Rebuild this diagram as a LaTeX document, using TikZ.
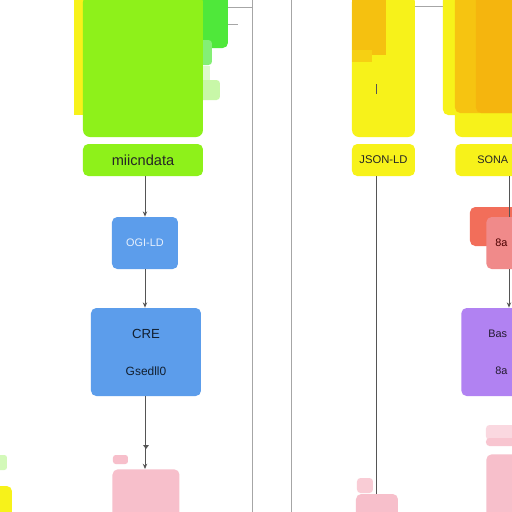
\documentclass[tikz,border=0pt]{standalone}
\usepackage{fontspec}
\setmainfont{Liberation Sans}
\usetikzlibrary{arrows.meta}
\definecolor{lgreen}{HTML}{8EF11A}
\definecolor{mgreen}{HTML}{4FE83A}
\definecolor{pgreen}{HTML}{C8F7A8}
\definecolor{yel}{HTML}{F7F21A}
\definecolor{ora}{HTML}{F5B50E}
\definecolor{blu}{HTML}{5C9DEB}
\definecolor{pnk}{HTML}{F7BFCB}
\definecolor{salm}{HTML}{F08A8A}
\definecolor{redo}{HTML}{F26E5A}
\definecolor{purp}{HTML}{B182F2}
\definecolor{lin}{HTML}{555555}
\tikzset{
  blk/.style={rounded corners=3pt, inner sep=0pt},
  lbl/.style={font=\fontsize{8.3}{10}\selectfont, text=black!85},
  edge/.style={lbl, inner sep=0pt, anchor=west, font=\fontsize{6.2}{7.5}\selectfont},
  conn/.style={draw=lin, line width=0.5pt},
  arr/.style={conn, -{Stealth[length=3pt,width=2.5pt]}},
  rule/.style={draw=gray!70, line width=0.5pt},
}
\begin{document}
\begin{tikzpicture}[x=0.02cm, y=-0.02cm]
\useasboundingbox (0,0) rectangle (512,512);
\fill[white] (0,0) rectangle (512,512);
\clip (0,0) rectangle (512,512);
% vertical rules
\draw[rule] (252,0) coordinate (r1a) -- (252,512) coordinate (r1b);
\draw[rule] (291,0) coordinate (r2a) -- (291,512) coordinate (r2b);
\draw[rule] (228,7) -- (252,7);
\draw[rule] (228,24) -- (238,24);
\draw[rule] (403,6) -- (462,6);
% left column top blocks
\fill[yel] (74,-5) rectangle (86,115);
\fill[mgreen, rounded corners=3pt] (190,-5) rectangle (228,48);
\fill[mgreen!70!white, rounded corners=2pt] (190,40) rectangle (212,65);
\fill[pgreen, rounded corners=2pt] (190,80) rectangle (220,100);
\fill[pgreen!60!white] (200,66) rectangle (210,80);
\fill[lgreen, rounded corners=4pt] (83,-5) rectangle (203,137);
\node[blk, fill=lgreen, minimum width=120*0.02cm, minimum height=32*0.02cm, lbl] (meta) at (143,160) {miicndata};
\node[blk, fill=blu, minimum width=66*0.02cm, minimum height=52*0.02cm, lbl, font=\fontsize{6.2}{7}\selectfont, text=blu!15!white] (ogi) at (145,243) {OGI-LD};
\node[blk, fill=blu, minimum width=110*0.02cm, minimum height=88*0.02cm] (cre) at (146,352) {};
\node[lbl, font=\fontsize{7.5}{9}\selectfont, text=blu!20!black] (cret) at (146,334) {CRE};
\node[lbl, font=\fontsize{6.8}{8}\selectfont, text=blu!20!black] (creb) at (146,371) {Gsedll0};
\fill[pnk, rounded corners=1.5pt] (113,455) rectangle (128,464);
\node[blk, fill=pnk, minimum width=67*0.02cm, minimum height=60*0.02cm, anchor=north] (pk1) at (146,469) {};
\draw[arr] (meta.south -| ogi.north) -- (ogi.north);
\draw[arr] (ogi.south) -- (cre.north -| ogi.south);
\draw[arr] (cre.south -| ogi.south) -- (pk1.north -| ogi.south);
\fill[lin] (143,445) -- (149,445) -- (146,449) -- cycle;
% bottom-left fragments
\fill[pgreen!80!white, rounded corners=1.5pt] (-5,455) rectangle (7,470);
\fill[yel, rounded corners=3pt] (-5,486) rectangle (12,520);
% middle column
\fill[yel, rounded corners=4pt] (352,-5) rectangle (415,137);
\fill[ora!80!yel] (352,-5) rectangle (386,55);
\fill[ora!55!yel] (352,50) rectangle (372,62);
\node[blk, fill=yel, minimum width=63*0.02cm, minimum height=32*0.02cm, lbl, font=\fontsize{6.4}{7.5}\selectfont] (json) at (383.5,160) {JSON-LD};
\coordinate (jend) at (376,512);
\draw[conn] (json.south -| jend) -- (jend);
\draw[conn] (376,84) -- (376,94);
\fill[pnk!80!white, rounded corners=2pt] (357,478) rectangle (373,493);
\fill[pnk, rounded corners=3pt] (356,494) rectangle (398,520);
% right column
\fill[yel, rounded corners=3pt] (443,-5) rectangle (470,115);
\fill[yel, rounded corners=4pt] (455,-5) rectangle (530,137);
\fill[ora!75!yel, rounded corners=3pt] (455,-5) rectangle (530,113);
\fill[ora, rounded corners=3pt] (476,-5) rectangle (530,113);
\node[blk, fill=yel, minimum width=80*0.02cm, minimum height=32*0.02cm, anchor=west] (sona) at (455,160) {};
\node[edge] (sonat) at (477,160) {SONA};
\fill[redo, rounded corners=3pt] (470,207) rectangle (530,246);
\node[blk, fill=salm, minimum width=50*0.02cm, minimum height=52*0.02cm, anchor=west] (sal) at (486,243) {};
\node[edge, text=red!30!black] (salt) at (495,243) {8a};
\node[blk, fill=purp, minimum width=80*0.02cm, minimum height=88*0.02cm, anchor=west] (pur) at (461,352) {};
\node[edge, text=purp!20!black] (purt) at (488,334) {Bas};
\node[edge, text=purp!20!black] (purb) at (495,371) {8a};
\fill[pnk!60!white, rounded corners=2pt] (486,425) rectangle (530,440);
\fill[pnk!90!white, rounded corners=2pt] (486,438) rectangle (530,446);
\node[blk, fill=pnk, minimum width=50*0.02cm, minimum height=70*0.02cm, anchor=north west] (pk2) at (486,454) {};
\coordinate (rx) at (509,0);
\draw[conn] (sona.south -| rx) -- (sal.north -| rx);
\draw[arr] (sal.south -| rx) -- (pur.north -| rx);
\end{tikzpicture}
\end{document}
